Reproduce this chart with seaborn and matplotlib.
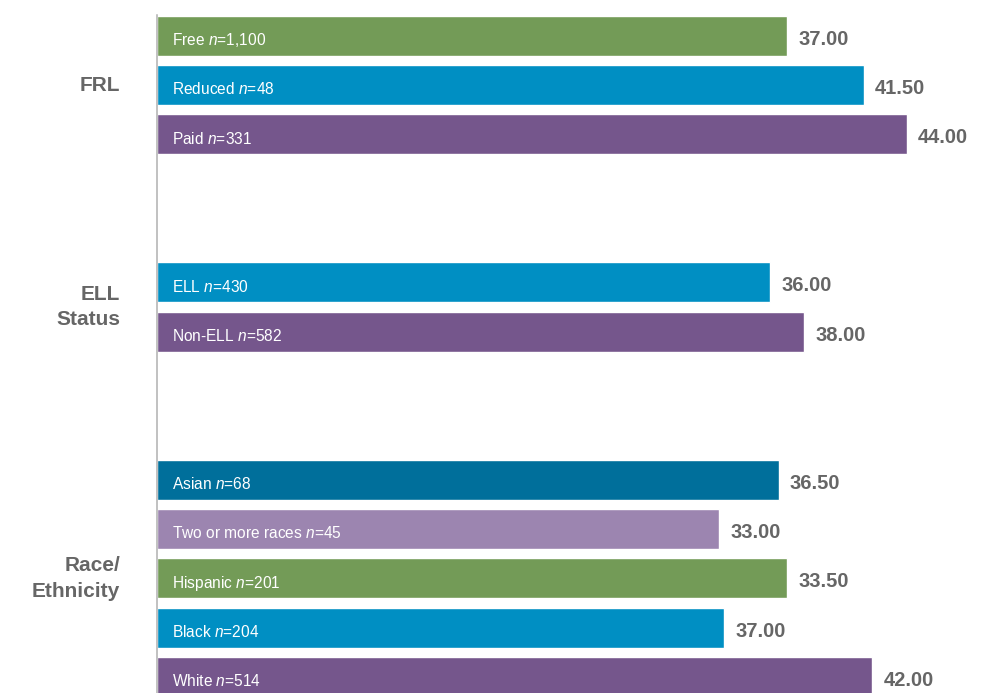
import matplotlib
matplotlib.use("Agg")
import matplotlib.pyplot as plt
import matplotlib.transforms as mtransforms
import seaborn as sns
import pandas as pd

# ---- data ----
group_names = ["FRL", "ELL\nStatus", "Race/\nEthnicity"]
group_sizes = [3, 2, 5]
categories = ["Free", "Reduced", "Paid", "ELL", "Non-ELL",
              "Asian", "Two or more races", "Hispanic", "Black", "White"]
n_sizes = ["1,100", "48", "331", "430", "582", "68", "45", "201", "204", "514"]
# bar lengths as drawn in the picture
bar_values = [37.0, 41.5, 44.0, 36.0, 38.0, 36.5, 33.0, 37.0, 33.3, 42.0]
# value labels as printed next to the bars
value_labels = ["37.00", "41.50", "44.00", "36.00", "38.00",
                "36.50", "33.00", "33.50", "37.00", "42.00"]
bar_colors = ["#739b57", "#008fc3", "#75568c", "#008fc3", "#75568c",
              "#006f9b", "#9c85b0", "#739b57", "#008fc3", "#75568c"]

GRAY = "#666666"

# slot positions: groups separated by two empty rows
slots = []
group_centers = []
start = 0
for size in group_sizes:
    slots.extend(range(start, start + size))
    group_centers.append(start + (size - 1) / 2)
    start += size + 2

df = pd.DataFrame({"category": categories, "value": bar_values, "slot": slots})

sns.set_style("white")
plt.rcParams["font.family"] = ["Liberation Sans", "DejaVu Sans"]
plt.rcParams["mathtext.fontset"] = "custom"
plt.rcParams["mathtext.rm"] = "Liberation Sans"
plt.rcParams["mathtext.it"] = "Liberation Sans:italic"

fig = plt.figure(figsize=(9.84, 6.93), dpi=100)
ax = fig.add_axes([157 / 984, 0, 816 / 984, (693 - 14.7) / 693])

sns.barplot(data=df, x="value", y="slot", hue="category",
            palette=dict(zip(categories, bar_colors)), orient="h",
            native_scale=True, dodge=False, width=0.81, saturation=1,
            legend=False, ax=ax)

ax.set_xlim(0, 47.9)
ax.set_ylim(13.325, -0.426)
ax.set_xticks([])
ax.set_yticks([])
ax.set_xlabel("")
ax.set_ylabel("")
for side in ["top", "right", "bottom"]:
    ax.spines[side].set_visible(False)
ax.spines["left"].set_color("#b0b0b0")
ax.spines["left"].set_linewidth(1.1)

# labels inside the bars
for cat, n, s in zip(categories, n_sizes, slots):
    ax.annotate(f"{cat} $\\mathit{{n}}$=" + n, xy=(0, s), xytext=(10.5, -2),
                textcoords="offset points", ha="left", va="center_baseline",
                color="white", fontsize=11.2)

# value labels after the bars
for v, lab, s in zip(bar_values, value_labels, slots):
    ax.annotate(lab, xy=(v, s), xytext=(8, -1), textcoords="offset points",
                ha="left", va="center_baseline", color=GRAY, fontsize=14.5,
                fontweight="bold")

# group labels on the left
trans = mtransforms.blended_transform_factory(fig.transFigure, ax.transData)
for name, c in zip(group_names, group_centers):
    ax.text(120 / 984, c, name, transform=trans, ha="right", va="center",
            color=GRAY, fontsize=15, fontweight="bold", linespacing=1.45)

fig.savefig("out.png", dpi=100)
